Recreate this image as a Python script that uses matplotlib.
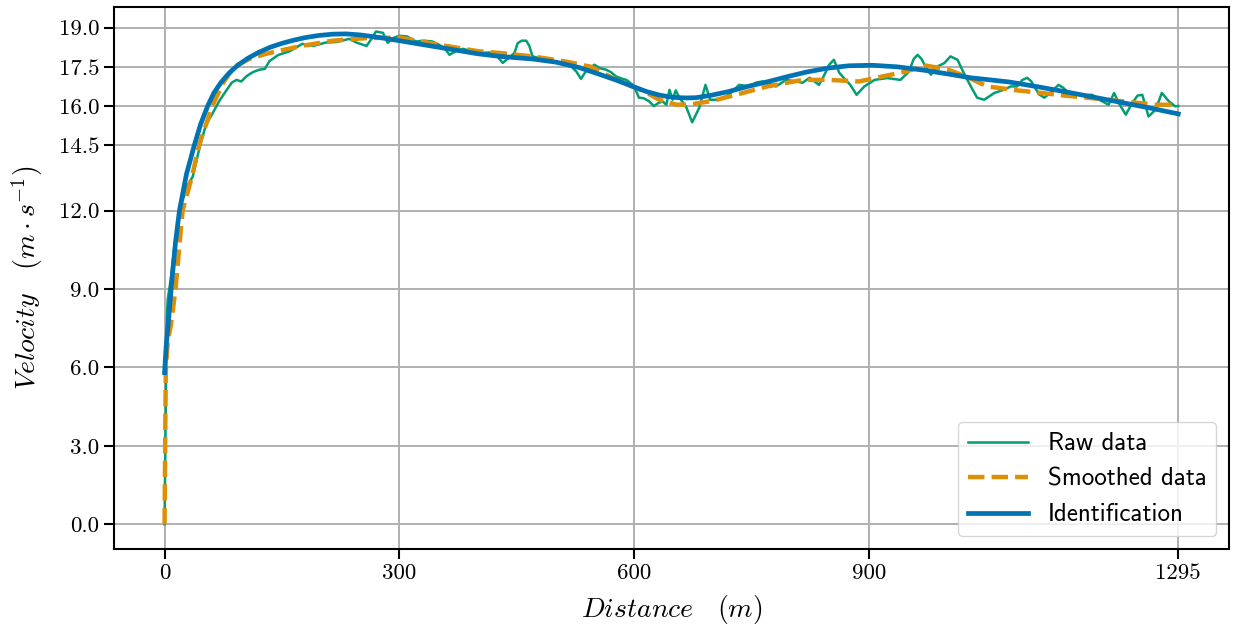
import matplotlib
matplotlib.use("Agg")
import matplotlib.pyplot as plt

plt.rcParams['mathtext.fontset'] = 'cm'
plt.rcParams['font.family'] = 'cmr10'
plt.rcParams['axes.formatter.use_mathtext'] = True

raw_x = [0, 1, 2, 3, 4, 8, 12, 17, 22, 30, 36, 45, 53, 61, 70, 79, 86, 92, 98, 105, 113, 121, 128, 134,
         145, 160, 176, 190, 206, 220, 236, 245, 258, 265, 270, 279, 285, 292, 300, 310, 321, 332, 342,
         351, 358, 364, 372, 381, 392, 402, 415, 425, 432, 440, 447, 451, 456, 462, 466, 470, 483, 500,
         513, 520, 526, 532, 538, 549, 556, 564, 570, 577, 584, 590, 598, 602, 606, 612, 619, 625, 630,
         636, 641, 645, 649, 653, 658, 666, 674, 683, 691, 697, 708, 721, 734, 747, 756, 764, 772, 781,
         794, 805, 815, 824, 836, 843, 849, 855, 862, 870, 876, 884, 894, 907, 923, 940, 951, 957, 962,
         967, 972, 979, 987, 996, 1004, 1013, 1021, 1030, 1038, 1047, 1060, 1072, 1081, 1089, 1096, 1102,
         1107, 1111, 1117, 1124, 1133, 1142, 1148, 1155, 1168, 1177, 1185, 1194, 1206, 1213, 1219, 1228,
         1236, 1243, 1249, 1257, 1266, 1274, 1283, 1291, 1295]
raw_y = [0.0, 3.0, 6.0, 8.0, 8.6, 9.4, 10.5, 11.6, 12.3, 13.0, 13.3, 14.45, 15.3, 15.7, 16.2, 16.6, 16.9,
         17.0, 16.94, 17.15, 17.3, 17.39, 17.42, 17.72, 17.95, 18.1, 18.38, 18.3, 18.43, 18.45, 18.57,
         18.43, 18.3, 18.6, 18.85, 18.8, 18.42, 18.6, 18.69, 18.66, 18.47, 18.5, 18.47, 18.34, 18.2,
         17.96, 18.1, 18.19, 18.1, 18.03, 18.05, 17.9, 17.65, 17.85, 18.03, 18.4, 18.5, 18.5, 18.3, 17.9,
         17.8, 17.7, 17.58, 17.5, 17.32, 17.04, 17.32, 17.58, 17.45, 17.39, 17.3, 17.13, 17.05, 17.0,
         16.81, 16.6, 16.32, 16.3, 16.18, 16.0, 16.1, 16.18, 16.05, 16.62, 16.24, 16.6, 16.3, 15.99,
         15.38, 15.93, 16.81, 16.24, 16.24, 16.43, 16.81, 16.75, 16.9, 16.94, 16.85, 16.75, 17.0, 16.95,
         16.89, 17.08, 16.81, 17.2, 17.58, 17.77, 17.27, 17.0, 16.81, 16.43, 16.75, 17.0, 17.07, 17.0,
         17.32, 17.8, 17.96, 17.8, 17.51, 17.2, 17.51, 17.64, 17.9, 17.77, 17.26, 16.75, 16.32, 16.24,
         16.5, 16.62, 16.75, 16.75, 17.0, 17.08, 16.95, 16.75, 16.45, 16.32, 16.55, 16.81, 16.7, 16.5,
         16.43, 16.42, 16.43, 16.24, 16.05, 16.5, 16.11, 15.67, 16.11, 16.4, 16.43, 15.6, 15.86, 16.5,
         16.18, 15.99, 16.0]

smooth_x = [0, 0.5, 1, 1.5, 4, 8, 14, 23, 35, 44, 61, 75, 89, 108, 130, 152, 175, 215, 258, 300, 350,
            400, 428, 470, 513, 545, 577, 610, 632, 654, 670, 700, 730, 770, 815, 849, 887, 947, 972,
            1000, 1024, 1051, 1089, 1102, 1150, 1185, 1266, 1295]
smooth_y = [0.0, 2.0, 4.0, 5.8, 7.0, 7.6, 9.0, 12.0, 13.3, 14.5, 16.0, 16.9, 17.5, 17.8, 18.0, 18.15,
            18.3, 18.5, 18.6, 18.62, 18.35, 18.1, 18.03, 17.9, 17.7, 17.5, 17.0, 16.6, 16.24, 16.05,
            16.05, 16.2, 16.43, 16.75, 17.0, 17.0, 16.94, 17.32, 17.55, 17.4, 17.13, 16.75, 16.6, 16.56,
            16.4, 16.3, 16.05, 16.05]

ident_x = [0, 2, 5, 9, 14, 19, 28, 38, 46, 55, 63, 72, 82, 93, 106, 120, 135, 150, 165, 180, 197, 215,
           232, 250, 275, 300, 350, 400, 428, 470, 500, 530, 555, 578, 598, 616, 632, 645, 657, 668, 679,
           698, 720, 745, 772, 795, 820, 847, 874, 904, 936, 968, 1000, 1030, 1055, 1079, 1115, 1150,
           1185, 1220, 1258, 1295]
ident_y = [5.8, 6.8, 7.8, 9.2, 10.8, 12.0, 13.4, 14.5, 15.3, 16.0, 16.5, 16.9, 17.25, 17.55, 17.82,
           18.05, 18.25, 18.4, 18.52, 18.62, 18.7, 18.75, 18.76, 18.72, 18.62, 18.5, 18.25, 18.0, 17.9,
           17.8, 17.68, 17.47, 17.22, 16.98, 16.75, 16.55, 16.42, 16.35, 16.32, 16.31, 16.32, 16.41,
           16.55, 16.75, 16.94, 17.12, 17.3, 17.45, 17.54, 17.56, 17.5, 17.38, 17.23, 17.08, 17.0, 16.92,
           16.74, 16.55, 16.35, 16.15, 15.93, 15.7]

x_ticks = [0, 300, 600, 900, 1295]
y_ticks = [0.0, 3.0, 6.0, 9.0, 12.0, 14.5, 16.0, 17.5, 19.0]

fig = plt.figure(figsize=(12.38, 6.28), dpi=100)
ax = fig.add_axes([0.092, 0.126, 0.9007, 0.863])

ax.plot(raw_x, raw_y, color='#029e73', lw=1.8, label='Raw data', zorder=3)
ax.plot(smooth_x, smooth_y, color='#de8f05', lw=3.2, ls='--', label='Smoothed data', zorder=4)
ax.plot(ident_x, ident_y, color='#0173b2', lw=3.4, label='Identification', zorder=5)

ax.set_xticks(x_ticks)
ax.set_xticklabels([str(v) for v in x_ticks])
ax.set_yticks(y_ticks)
ax.set_yticklabels(['%.1f' % v for v in y_ticks])
ax.tick_params(labelsize=16.5, length=7, width=1.5)
ax.grid(True, color='#b0b0b0', lw=1.4)
ax.set_axisbelow(True)
for s in ax.spines.values():
    s.set_linewidth(1.5)

ax.set_xlabel(r'$Distance \quad (m)$', fontsize=20, labelpad=7)
ax.set_ylabel(r'$Velocity \quad (m \cdot s^{-1})$', fontsize=20, labelpad=10)

leg = ax.legend(loc='lower right', prop={'family': 'cmss10', 'size': 18}, handlelength=2.4)

fig.savefig('out.png', dpi=100)
